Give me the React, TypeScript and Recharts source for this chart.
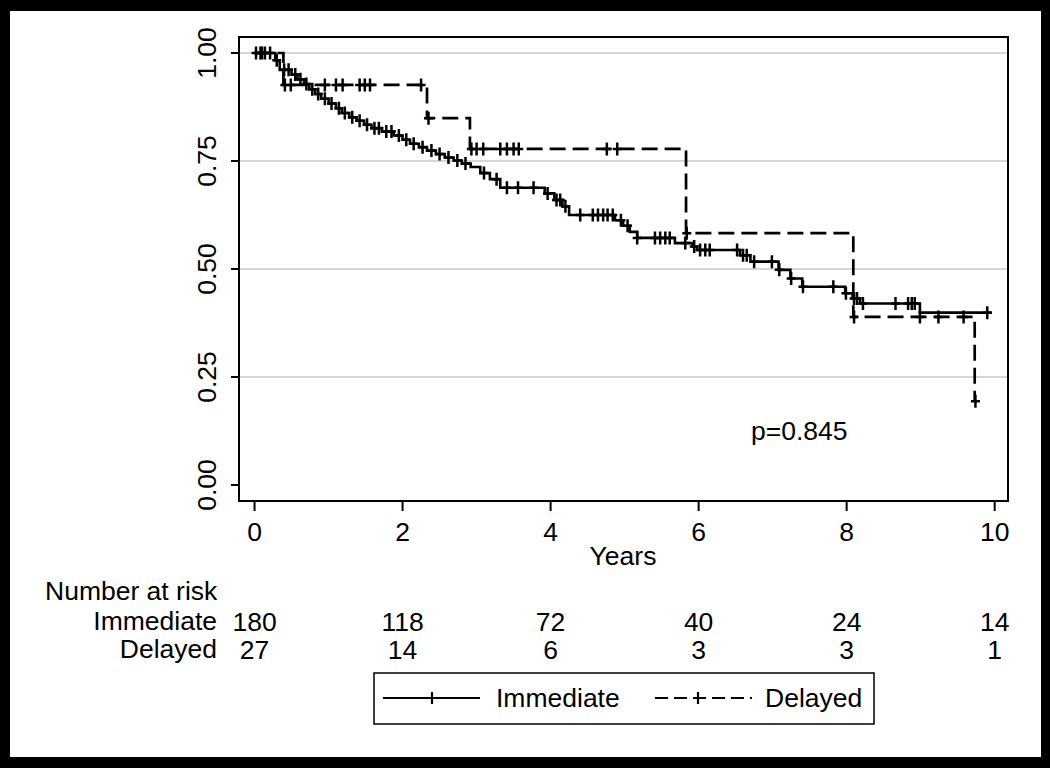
import React from 'react';
import {
  ComposedChart,
  Line,
  Scatter,
  XAxis,
  YAxis,
  CartesianGrid,
  ReferenceArea,
} from 'recharts';

// ---- data ----
const immediateTimes = [
  0, 0.28, 0.34, 0.5, 0.58, 0.67, 0.74, 0.82, 0.9, 1.0, 1.1, 1.18, 1.28, 1.38, 1.48, 1.58, 1.72, 1.88,
  2.0, 2.1, 2.22, 2.33, 2.45, 2.57, 2.69, 2.8, 2.92, 3.05, 3.18, 3.32, 3.92, 4.05, 4.16, 4.25, 4.87,
  4.98, 5.07, 5.17, 5.68, 5.92, 5.98, 6.56, 6.7, 7.08, 7.24, 7.4, 7.98, 8.08, 8.18, 8.99, 9.96,
];
const immediateSurv = [
  1.0, 0.983, 0.961, 0.95, 0.939, 0.928, 0.916, 0.905, 0.894, 0.883, 0.872, 0.861, 0.851, 0.843, 0.834,
  0.826, 0.818, 0.809, 0.799, 0.79, 0.782, 0.774, 0.766, 0.758, 0.751, 0.744, 0.736, 0.722, 0.708, 0.688,
  0.675, 0.66, 0.645, 0.625, 0.613, 0.6, 0.586, 0.572, 0.56, 0.552, 0.544, 0.532, 0.517, 0.498, 0.478,
  0.459, 0.444, 0.432, 0.42, 0.399, 0.399,
];
const immediateCensorTimes = [
  0.02, 0.08, 0.14, 0.21, 0.3, 0.4, 0.46, 0.55, 0.62, 0.7, 0.78, 0.86, 0.95, 1.04, 1.14, 1.22, 1.32,
  1.42, 1.52, 1.62, 1.68, 1.78, 1.85, 1.95, 2.05, 2.15, 2.27, 2.39, 2.5, 2.62, 2.74, 2.85, 3.1, 3.27,
  3.41, 3.56, 3.77, 3.96, 4.08, 4.13, 4.2, 4.4, 4.57, 4.64, 4.71, 4.77, 4.84, 4.95, 5.04, 5.17, 5.41,
  5.48, 5.55, 5.61, 5.82, 5.94, 6.02, 6.09, 6.15, 6.52, 6.6, 6.65, 6.75, 6.99, 7.09, 7.25, 7.41, 7.82,
  7.99, 8.1, 8.14, 8.22, 8.66, 8.83, 8.88, 8.92, 9.9,
];

const delayedTimes = [0, 0.39, 2.33, 2.91, 5.83, 8.09, 9.73];
const delayedSurv = [1.0, 0.926, 0.849, 0.778, 0.583, 0.389, 0.194];
const delayedCensorTimes = [
  0.1, 0.41, 0.49, 0.95, 1.1, 1.19, 1.42, 1.49, 1.56, 2.25, 2.35, 2.93, 3.0, 3.09, 3.32, 3.41, 3.5,
  3.57, 4.76, 4.9, 5.84, 8.1, 8.99, 9.24, 9.58, 9.74,
];

const xTicks = [0, 2, 4, 6, 8, 10];
const yTicks = [0, 0.25, 0.5, 0.75, 1];
const gridValues = [0.25, 0.5, 0.75, 1];
const atRiskImmediate = [180, 118, 72, 40, 24, 14];
const atRiskDelayed = [27, 14, 6, 3, 3, 1];
const groupNames = ['Immediate', 'Delayed'];
const pValueText = 'p=0.845';

// ---- helpers ----
const FONT = '"Liberation Sans", Arial, Helvetica, sans-serif';
const FS = 26.5;

const X_DOMAIN: [number, number] = [-0.21, 10.18];
const Y_DOMAIN: [number, number] = [-0.037, 1.037];

const survAt = (times: number[], surv: number[], t: number) => {
  let v = surv[0];
  for (let i = 0; i < times.length; i++) {
    if (t >= times[i]) v = surv[i];
  }
  return v;
};

const immediateData = immediateTimes.map((t, i) => ({ t, s: immediateSurv[i] }));
const delayedData = delayedTimes.map((t, i) => ({ t, s: delayedSurv[i] }));
const immediateCensor = immediateCensorTimes.map((t) => ({
  t,
  s: survAt(immediateTimes, immediateSurv, t),
}));
const delayedCensor = delayedCensorTimes.map((t) => ({
  t,
  s: survAt(delayedTimes, delayedSurv, t),
}));

const PlusMark = (props: any) => {
  const { cx, cy } = props;
  if (cx == null || cy == null) return null;
  return (
    <path
      d={`M${cx - 4.5},${cy}H${cx + 4.5}M${cx},${cy - 6.5}V${cy + 6.5}`}
      stroke="#000"
      strokeWidth={2.5}
      fill="none"
    />
  );
};

const YTick = (props: any) => {
  const { x, y, payload } = props;
  return (
    <text
      transform={`translate(${x - 13},${y}) rotate(-90)`}
      textAnchor="middle"
      fontFamily={FONT}
      fontSize={FS}
      fill="#000"
    >
      {Number(payload.value).toFixed(2)}
    </text>
  );
};

const XTick = (props: any) => {
  const { x, y, payload } = props;
  const idx = xTicks.indexOf(payload.value);
  return (
    <g>
      <text x={x} y={y + 28} textAnchor="middle" fontFamily={FONT} fontSize={FS} fill="#000">
        {payload.value}
      </text>
      <text x={x} y={y + 118} textAnchor="middle" fontFamily={FONT} fontSize={FS} fill="#000">
        {atRiskImmediate[idx]}
      </text>
      <text x={x} y={y + 146} textAnchor="middle" fontFamily={FONT} fontSize={FS} fill="#000">
        {atRiskDelayed[idx]}
      </text>
    </g>
  );
};

export default function App() {
  return (
    <div
      style={{
        position: 'absolute',
        left: 0,
        top: 0,
        width: 1050,
        height: 768,
        background: '#000',
      }}
    >
      <div
        style={{
          position: 'absolute',
          left: 10,
          top: 11,
          width: 1031,
          height: 746,
          background: '#fff',
        }}
      />
      <div style={{ position: 'absolute', left: 0, top: 0 }}>
        <ComposedChart
          width={1050}
          height={768}
          margin={{ top: 37, right: 42, bottom: 207, left: 179 }}
        >
          <CartesianGrid
            vertical={false}
            horizontalValues={gridValues}
            stroke="#d6d6d6"
            strokeWidth={2}
          />
          <XAxis
            dataKey="t"
            type="number"
            domain={X_DOMAIN}
            allowDataOverflow
            ticks={xTicks}
            tick={<XTick />}
            tickSize={10}
            tickLine={{ stroke: '#000', strokeWidth: 2 }}
            axisLine={false}
            height={60}
            interval={0}
          />
          <YAxis
            type="number"
            domain={Y_DOMAIN}
            allowDataOverflow
            ticks={yTicks}
            tick={<YTick />}
            tickSize={8}
            tickLine={{ stroke: '#000', strokeWidth: 2 }}
            axisLine={false}
            width={60}
            interval={0}
          />
          <ReferenceArea
            x1={X_DOMAIN[0]}
            x2={X_DOMAIN[1]}
            y1={Y_DOMAIN[0]}
            y2={Y_DOMAIN[1]}
            fill="none"
            stroke="#000"
            strokeWidth={2}
            ifOverflow="visible"
          />
          <Line
            data={delayedData}
            dataKey="s"
            type="stepAfter"
            stroke="#000"
            strokeWidth={2.7}
            strokeDasharray="16 7"
            dot={false}
            activeDot={false}
            isAnimationActive={false}
          />
          <Line
            data={immediateData}
            dataKey="s"
            type="stepAfter"
            stroke="#000"
            strokeWidth={2.6}
            dot={false}
            activeDot={false}
            isAnimationActive={false}
          />
          <Scatter
            data={immediateCensor}
            dataKey="s"
            shape={<PlusMark />}
            isAnimationActive={false}
          />
          <Scatter
            data={delayedCensor}
            dataKey="s"
            shape={<PlusMark />}
            isAnimationActive={false}
          />
        </ComposedChart>
      </div>
      <svg
        width={1050}
        height={768}
        style={{ position: 'absolute', left: 0, top: 0, pointerEvents: 'none' }}
      >
        <g fontFamily={FONT} fontSize={FS} fill="#000">
          <text x={751} y={440}>
            {pValueText}
          </text>
          <text x={623} y={565} textAnchor="middle">
            Years
          </text>
          <text x={45} y={600}>
            Number at risk
          </text>
          <text x={217} y={630} textAnchor="end">
            {groupNames[0]}
          </text>
          <text x={217} y={658} textAnchor="end">
            {groupNames[1]}
          </text>
        </g>
        <rect x={374} y={673} width={500} height={51} fill="#fff" stroke="#000" strokeWidth={1.5} />
        <line x1={383} y1={698} x2={480} y2={698} stroke="#000" strokeWidth={2.2} />
        <line x1={432} y1={692} x2={432} y2={704} stroke="#000" strokeWidth={2.2} />
        <text x={496} y={707} fontFamily={FONT} fontSize={FS} fill="#000">
          {groupNames[0]}
        </text>
        <line
          x1={655}
          y1={698}
          x2={752}
          y2={698}
          stroke="#000"
          strokeWidth={2.2}
          strokeDasharray="13 6"
        />
        <line x1={698} y1={692} x2={698} y2={704} stroke="#000" strokeWidth={2.2} />
        <text x={765} y={707} fontFamily={FONT} fontSize={FS} fill="#000">
          {groupNames[1]}
        </text>
      </svg>
    </div>
  );
}
